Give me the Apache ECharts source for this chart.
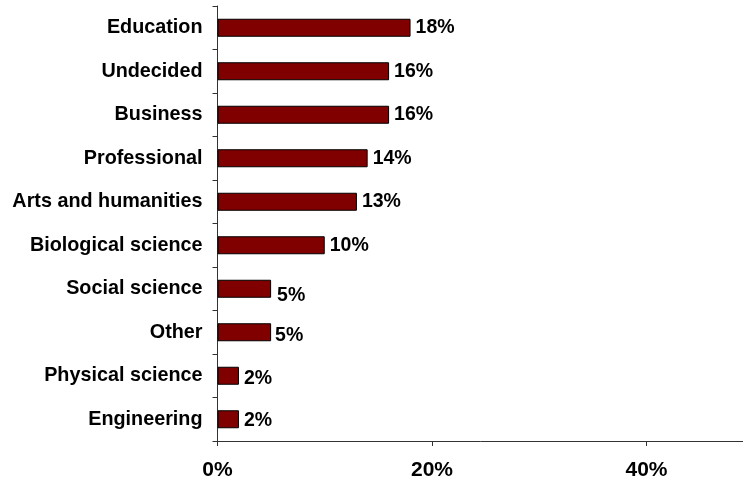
<!DOCTYPE html>
<html><head><meta charset="utf-8">
<script src="https://cdn.jsdelivr.net/npm/echarts@6/dist/echarts.min.js"></script>
<style>html,body{margin:0;padding:0;background:#fff}#c{width:743px;height:487px}</style>
</head><body><div id="c"></div>
<script>
const categories = ["Education","Undecided","Business","Professional","Arts and humanities","Biological science","Social science","Other","Physical science","Engineering"];
const values = [18,16,16,14,13,10,5,5,2,2];
const xTicks = [0,20,40];
// label nudges (style only)
const labelShiftY = [0,0,0,0,0,0,7,3,3,1];
const labelShiftX = [0,0,0,0,0,0,1,-1,0,0];

const chart = echarts.init(document.getElementById('c'), null, {renderer:'canvas'});
const FONT = '"Liberation Sans", Arial, sans-serif';
chart.setOption({
  animation:false,
  grid:{left:217.5, right:0, top:6, bottom:46, containLabel:false},
  xAxis:{
    type:'value', min:0, max:49, interval:20,
    axisLine:{show:true, lineStyle:{color:'#333', width:1}},
    axisTick:{show:true, length:5, lineStyle:{color:'#333'}},
    splitLine:{show:false},
    axisLabel:{margin:19, showMaxLabel:false, color:'#000', fontFamily:FONT, fontWeight:'bold', fontSize:21,
      formatter:v=> xTicks.includes(v) ? v+'%' : ''}
  },
  yAxis:{
    type:'category', data:categories, inverse:true,
    axisLine:{show:true, lineStyle:{color:'#333', width:1}},
    axisTick:{show:true, length:5, lineStyle:{color:'#333'}},
    axisLabel:{margin:15, color:'#000', fontFamily:FONT, fontWeight:'bold', fontSize:19.8}
  },
  series:[{
    type:'bar', barWidth:18,
    data: values.map((v,i)=>({value:v, label:{offset:[labelShiftX[i], labelShiftY[i]]}})),
    itemStyle:{color:'#800000', borderColor:'#000', borderWidth:1},
    label:{show:true, position:'right', distance:5, color:'#000', fontFamily:FONT, fontWeight:'bold', fontSize:19.5,
      formatter:p=>p.value+'%'}
  }]
});
</script></body></html>
